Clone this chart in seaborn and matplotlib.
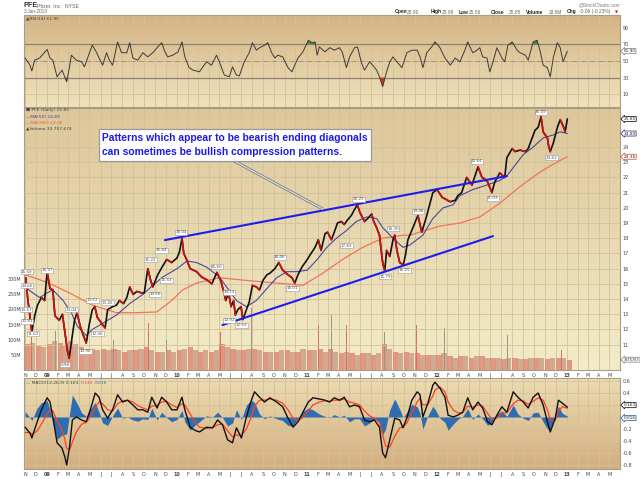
import numpy as np
import pandas as pd
import seaborn as sns
import matplotlib.pyplot as plt
from matplotlib.colors import LinearSegmentedColormap
from matplotlib.patches import Rectangle

# ===============================================================
# Valores (PFE diario, nov/2008 - jan/2013)
# ===============================================================

price_dates = [
    "2008-11-03", "2008-11-09", "2008-11-14", "2008-11-20", "2008-11-28", "2008-12-06", "2008-12-17",
    "2008-12-26", "2009-01-02", "2009-01-10", "2009-01-18", "2009-01-24", "2009-02-05", "2009-02-14",
    "2009-02-21", "2009-02-28", "2009-03-05", "2009-03-12", "2009-03-20", "2009-03-27", "2009-04-05",
    "2009-04-14", "2009-04-22", "2009-05-01", "2009-05-09", "2009-05-16", "2009-05-23", "2009-06-07",
    "2009-06-14", "2009-06-21", "2009-07-05", "2009-07-16", "2009-07-24", "2009-08-05", "2009-08-14",
    "2009-08-22", "2009-09-01", "2009-09-11", "2009-09-25", "2009-10-02", "2009-10-12", "2009-10-19",
    "2009-10-26", "2009-11-09", "2009-11-21", "2009-12-04", "2009-12-18", "2010-01-02", "2010-01-09",
    "2010-01-16", "2010-01-21", "2010-01-27", "2010-02-08", "2010-02-26", "2010-03-12", "2010-03-28",
    "2010-04-10", "2010-04-24", "2010-05-05", "2010-05-12", "2010-05-19", "2010-05-27", "2010-06-03",
    "2010-06-10", "2010-06-15", "2010-06-22", "2010-07-01", "2010-07-06", "2010-07-16", "2010-07-24",
    "2010-08-02", "2010-08-13", "2010-08-22", "2010-09-01", "2010-09-12", "2010-09-20", "2010-10-04",
    "2010-10-15", "2010-10-26", "2010-11-10", "2010-11-21", "2010-11-29", "2010-12-08", "2010-12-19",
    "2011-01-03", "2011-01-11", "2011-01-25", "2011-02-03", "2011-02-11", "2011-02-22", "2011-03-01",
    "2011-03-12", "2011-03-20", "2011-03-29", "2011-04-09", "2011-04-17", "2011-04-26", "2011-05-07",
    "2011-05-16", "2011-05-24", "2011-05-31", "2011-06-13", "2011-06-22", "2011-07-03", "2011-07-09",
    "2011-07-17", "2011-07-25", "2011-08-03", "2011-08-09", "2011-08-14", "2011-08-23", "2011-09-01",
    "2011-09-06", "2011-09-12", "2011-09-20", "2011-09-30", "2011-10-06", "2011-10-13", "2011-10-27",
    "2011-11-10", "2011-11-21", "2011-12-05", "2011-12-13", "2011-12-22", "2012-01-03", "2012-01-17",
    "2012-02-01", "2012-02-09", "2012-02-23", "2012-03-01", "2012-03-12", "2012-03-26", "2012-04-10",
    "2012-04-24", "2012-04-27", "2012-05-08", "2012-05-16", "2012-05-24", "2012-06-05", "2012-06-13",
    "2012-06-27", "2012-07-11", "2012-07-17", "2012-08-01", "2012-08-09", "2012-08-23", "2012-09-07",
    "2012-09-15", "2012-09-26", "2012-10-04", "2012-10-13", "2012-10-21", "2012-10-27", "2012-11-08",
    "2012-11-12", "2012-11-16", "2012-11-25", "2012-12-06", "2012-12-14", "2012-12-22", "2012-12-28",
    "2013-01-03",
]
price_close = [
    15.4, 13.9, 13.0, 11.8, 12.9, 13.6, 14.1,
    13.9, 15.8, 14.7, 14.6, 12.9, 12.6, 13.0,
    11.8, 10.6, 10.1, 11.3, 12.6, 13.1, 12.2,
    11.6, 11.1, 12.4, 13.3, 13.5, 12.8, 12.3,
    12.1, 13.3, 13.5, 13.6, 13.9, 13.7, 14.1,
    14.8, 14.3, 14.5, 14.4, 14.4, 16.0, 15.3,
    14.8, 15.6, 16.1, 16.6, 16.4, 16.7, 17.1,
    18.0, 17.0, 16.7, 16.0, 15.8, 15.45, 15.25,
    15.0, 15.75, 15.2, 14.6, 13.9, 14.4, 13.5,
    13.9, 12.95, 13.3, 13.5, 12.65, 13.3, 13.8,
    14.9, 14.8, 14.6, 15.25, 15.6, 15.7, 16.0,
    16.4, 15.9, 15.6, 15.4, 15.05, 15.6, 16.1,
    16.6, 16.9, 17.4, 17.9, 17.2, 18.3, 18.4,
    17.9, 18.4, 19.0, 19.1, 18.9, 19.2, 19.5,
    19.9, 20.2, 19.7, 19.1, 19.3, 19.6, 19.1,
    18.7, 18.2, 16.4, 15.85, 17.2, 16.8, 17.9,
    18.2, 17.2, 16.4, 16.25, 16.9, 17.9, 18.7,
    19.5, 18.4, 19.5, 20.2, 21.0, 21.2, 20.7,
    20.5, 20.4, 20.5, 20.8, 21.0, 22.0, 21.5,
    22.5, 22.7, 22.0, 21.9, 21.7, 21.0, 21.7,
    22.3, 22.0, 23.3, 23.9, 23.7, 23.8, 23.7,
    23.9, 24.6, 25.1, 25.3, 26.0, 25.0, 24.6,
    24.0, 23.7, 24.3, 25.3, 25.8, 25.4, 25.0,
    25.85,
]

ma50_dates = [
    "2008-11-01", "2008-11-23", "2008-12-12", "2009-01-02", "2009-01-18", "2009-02-16", "2009-03-11",
    "2009-03-28", "2009-04-22", "2009-05-09", "2009-06-07", "2009-07-16", "2009-08-22", "2009-09-28",
    "2009-10-26", "2009-11-23", "2010-01-02", "2010-01-30", "2010-02-26", "2010-03-26", "2010-05-01",
    "2010-06-18", "2010-07-16", "2010-08-13", "2010-09-12", "2010-10-09", "2010-11-07", "2010-12-05",
    "2011-01-03", "2011-01-31", "2011-02-27", "2011-03-26", "2011-04-23", "2011-05-21", "2011-06-19",
    "2011-07-17", "2011-08-03", "2011-09-01", "2011-09-29", "2011-10-18", "2011-11-24", "2011-12-22",
    "2012-01-20", "2012-02-17", "2012-03-07", "2012-04-12", "2012-05-22", "2012-06-27", "2012-07-17",
    "2012-08-09", "2012-09-01", "2012-09-29", "2012-10-27", "2012-11-25", "2012-12-14", "2013-01-03",
]
ma50 = [
    14.8, 14.4, 14.1, 14.4, 14.6, 13.9, 13.1,
    12.2, 11.6, 12.0, 12.4, 12.95, 13.7, 14.3,
    14.9, 15.45, 16.0, 16.5, 16.4, 16.1, 15.45,
    13.9, 13.5, 13.9, 14.7, 15.4, 15.8, 15.8,
    15.9, 16.6, 17.4, 18.0, 18.5, 19.1, 19.4,
    19.3, 18.7, 18.0, 17.4, 17.55, 18.2, 19.3,
    20.0, 20.2, 20.8, 21.2, 21.5, 21.8, 22.1,
    22.8, 23.5, 24.0, 24.6, 24.8, 25.0, 24.89,
]

ma200_dates = [
    "2008-11-01", "2009-01-02", "2009-03-06", "2009-05-09", "2009-07-16", "2009-09-11", "2009-11-06",
    "2009-12-13", "2010-01-18", "2010-02-26", "2010-05-01", "2010-07-05", "2010-10-09", "2010-12-22",
    "2011-02-16", "2011-04-12", "2011-06-08", "2011-08-03", "2011-09-29", "2011-10-18", "2012-01-11",
    "2012-03-07", "2012-05-02", "2012-06-27", "2012-08-23", "2012-10-18", "2012-11-30", "2013-01-03",
]
ma200 = [
    15.6, 15.1, 14.4, 13.6, 13.1, 13.1, 13.15,
    13.8, 14.6, 15.05, 15.4, 15.25, 15.05, 14.9,
    15.7, 16.6, 17.4, 18.0, 18.2, 18.2, 18.8,
    19.0, 19.4, 20.3, 21.4, 22.35, 22.95, 23.36,
]

rsi_dates = [
    "2008-11-01", "2008-11-15", "2008-11-20", "2008-11-28", "2008-12-12", "2009-01-02", "2009-01-10",
    "2009-01-18", "2009-01-30", "2009-02-13", "2009-02-26", "2009-03-06", "2009-03-11", "2009-03-25",
    "2009-04-09", "2009-04-17", "2009-05-01", "2009-05-09", "2009-05-20", "2009-05-28", "2009-06-07",
    "2009-06-18", "2009-06-26", "2009-07-05", "2009-07-19", "2009-07-30", "2009-08-14", "2009-08-22",
    "2009-08-31", "2009-09-14", "2009-09-28", "2009-10-12", "2009-10-26", "2009-11-09", "2009-11-20",
    "2009-11-29", "2009-12-07", "2009-12-21", "2010-01-05", "2010-01-16", "2010-01-24", "2010-02-05",
    "2010-02-16", "2010-03-06", "2010-03-26", "2010-04-09", "2010-04-23", "2010-05-01", "2010-05-15",
    "2010-05-29", "2010-06-07", "2010-06-18", "2010-06-26", "2010-07-10", "2010-07-24", "2010-08-02",
    "2010-08-13", "2010-08-22", "2010-09-05", "2010-09-14", "2010-09-25", "2010-10-04", "2010-10-12",
    "2010-10-26", "2010-11-10", "2010-11-21", "2010-11-29", "2010-12-08", "2010-12-22", "2011-01-06",
    "2011-01-17", "2011-01-25", "2011-01-31", "2011-02-06", "2011-02-22", "2011-03-07", "2011-03-20",
    "2011-04-04", "2011-04-12", "2011-04-23", "2011-05-02", "2011-05-16", "2011-05-24", "2011-06-05",
    "2011-06-13", "2011-06-27", "2011-07-06", "2011-07-17", "2011-07-25", "2011-08-03", "2011-08-14",
    "2011-08-23", "2011-09-01", "2011-09-12", "2011-09-26", "2011-10-10", "2011-10-24", "2011-11-08",
    "2011-11-16", "2011-11-24", "2011-12-05", "2011-12-19", "2011-12-28", "2012-01-11", "2012-01-25",
    "2012-02-09", "2012-02-23", "2012-03-07", "2012-03-21", "2012-03-29", "2012-04-12", "2012-04-24",
    "2012-05-02", "2012-05-10", "2012-05-22", "2012-05-30", "2012-06-08", "2012-06-19", "2012-07-03",
    "2012-07-11", "2012-07-20", "2012-08-01", "2012-08-15", "2012-08-23", "2012-09-07", "2012-09-15",
    "2012-09-29", "2012-10-10", "2012-10-18", "2012-10-27", "2012-11-08", "2012-11-16", "2012-11-25",
    "2012-12-06", "2012-12-14", "2012-12-22", "2013-01-03",
]
rsi = [
    53.6, 45, 38, 51, 53.6, 64, 53.6,
    51, 31, 39, 25, 43, 57, 51,
    49, 43, 60, 69, 61, 53.6, 45,
    60, 51, 45, 73, 60, 60, 72,
    53.6, 51, 60, 55, 60, 67, 72,
    61, 55, 57, 61, 73, 55, 42,
    39, 37, 49, 45, 57, 49, 33,
    31, 43, 33, 32, 49, 60, 72,
    63, 66, 69, 72, 60, 53.6, 57,
    55, 42, 37, 45, 53.6, 61, 75,
    72, 73, 57, 67, 61, 66, 63,
    66, 60, 42, 55, 66, 67, 47,
    39, 49, 45, 39, 31, 19, 37,
    49, 55, 49, 42, 60, 63, 63,
    55, 42, 60, 67, 73, 66, 53.6,
    45, 53.6, 49, 63, 73, 60, 63,
    66, 55, 53.6, 37, 49, 66, 53.6,
    49, 69, 73, 63, 60, 57, 51,
    73, 75, 63, 45, 42, 31, 55,
    72, 66, 49, 61.9,
]

macd_dates = [
    "2008-11-01", "2008-11-15", "2008-11-20", "2008-12-04", "2008-12-17", "2009-01-02", "2009-01-10",
    "2009-01-18", "2009-01-30", "2009-02-13", "2009-02-21", "2009-02-26", "2009-03-06", "2009-03-14",
    "2009-03-25", "2009-04-09", "2009-04-22", "2009-05-06", "2009-05-17", "2009-05-28", "2009-06-07",
    "2009-06-21", "2009-07-05", "2009-07-19", "2009-08-02", "2009-08-16", "2009-08-31", "2009-09-14",
    "2009-09-28", "2009-10-12", "2009-10-23", "2009-11-07", "2009-11-20", "2009-12-04", "2009-12-18",
    "2010-01-02", "2010-01-16", "2010-01-24", "2010-02-08", "2010-02-21", "2010-03-06", "2010-03-26",
    "2010-04-12", "2010-04-26", "2010-05-10", "2010-05-24", "2010-06-07", "2010-06-18", "2010-07-02",
    "2010-07-16", "2010-07-30", "2010-08-08", "2010-08-22", "2010-09-05", "2010-09-20", "2010-10-09",
    "2010-10-26", "2010-11-10", "2010-11-24", "2010-12-08", "2010-12-22", "2011-01-06", "2011-01-19",
    "2011-02-06", "2011-02-22", "2011-03-07", "2011-03-20", "2011-04-04", "2011-04-17", "2011-05-02",
    "2011-05-16", "2011-05-30", "2011-06-13", "2011-06-27", "2011-07-11", "2011-07-25", "2011-08-03",
    "2011-08-11", "2011-08-23", "2011-09-06", "2011-09-20", "2011-09-29", "2011-10-10", "2011-10-24",
    "2011-11-08", "2011-11-16", "2011-11-24", "2011-12-08", "2011-12-22", "2011-12-28", "2012-01-11",
    "2012-01-25", "2012-02-03", "2012-02-17", "2012-03-01", "2012-03-15", "2012-03-29", "2012-04-12",
    "2012-04-27", "2012-05-10", "2012-05-24", "2012-06-05", "2012-06-19", "2012-07-03", "2012-07-17",
    "2012-08-04", "2012-08-17", "2012-09-01", "2012-09-15", "2012-09-29", "2012-10-13", "2012-10-27",
    "2012-11-08", "2012-11-16", "2012-11-30", "2012-12-09", "2012-12-20", "2013-01-03",
]
macd_line = [
    -0.17, -0.27, -0.35, -0.10, 0.12, 0.32, 0.25,
    0.00, -0.43, -0.52, -0.67, -0.80, -0.50, -0.05,
    0.00, -0.05, -0.08, 0.17, 0.40, 0.33, 0.12,
    -0.02, 0.12, 0.37, 0.25, 0.28, 0.20, 0.12,
    0.12, 0.08, 0.33, 0.15, 0.33, 0.25, 0.12,
    0.12, 0.33, 0.12, -0.17, -0.22, -0.25, -0.17,
    -0.18, -0.05, -0.13, -0.38, -0.43, -0.18, -0.35,
    0.00, 0.28, 0.42, 0.33, 0.25, 0.32, 0.25,
    0.17, -0.02, -0.17, -0.08, 0.08, 0.25, 0.32,
    0.30, 0.28, 0.25, 0.32, 0.28, 0.33, 0.17,
    0.20, 0.17, -0.05, -0.08, -0.05, -0.17, -0.60,
    -0.68, -0.38, -0.02, -0.05, -0.18, -0.02, 0.28,
    0.42, 0.37, 0.00, 0.23, 0.53, 0.58, 0.48,
    0.33, 0.03, 0.00, 0.03, 0.08, 0.32, 0.12,
    0.25, 0.15, -0.08, -0.13, 0.03, 0.17, 0.08,
    0.42, 0.33, 0.25, 0.15, 0.33, 0.40, 0.20,
    -0.08, -0.25, -0.02, 0.28, 0.23, 0.163,
]
macd_signal = [
    -0.26, -0.26, -0.29, -0.24, -0.12, 0.05, 0.12,
    0.10, -0.06, -0.22, -0.38, -0.52, -0.55, -0.42,
    -0.25, -0.12, -0.09, 0.02, 0.16, 0.25, 0.22,
    0.12, 0.10, 0.22, 0.27, 0.28, 0.25, 0.19,
    0.15, 0.12, 0.18, 0.20, 0.25, 0.26, 0.20,
    0.16, 0.22, 0.20, 0.05, -0.08, -0.17, -0.19,
    -0.18, -0.13, -0.12, -0.23, -0.33, -0.30, -0.31,
    -0.20, 0.00, 0.18, 0.28, 0.28, 0.30, 0.28,
    0.23, 0.12, -0.02, -0.06, -0.01, 0.10, 0.20,
    0.25, 0.27, 0.26, 0.28, 0.28, 0.30, 0.25,
    0.23, 0.20, 0.10, 0.02, -0.02, -0.09, -0.30,
    -0.48, -0.50, -0.32, -0.18, -0.17, -0.10, 0.07,
    0.25, 0.31, 0.20, 0.21, 0.35, 0.45, 0.50,
    0.42, 0.25, 0.12, 0.07, 0.07, 0.18, 0.16,
    0.20, 0.18, 0.06, -0.04, -0.02, 0.07, 0.07,
    0.22, 0.28, 0.27, 0.21, 0.26, 0.32, 0.28,
    0.12, -0.05, -0.06, 0.10, 0.17, 0.146,
]
macd_hist = [
    0.09, -0.01, -0.06, 0.14, 0.24, 0.27, 0.13,
    -0.10, -0.37, -0.30, -0.29, -0.28, 0.05, 0.37,
    0.25, 0.07, 0.01, 0.15, 0.24, 0.08, -0.10,
    -0.14, 0.02, 0.15, -0.02, 0.00, -0.05, -0.07,
    -0.03, -0.04, 0.15, -0.05, 0.08, -0.01, -0.08,
    -0.04, 0.11, -0.08, -0.22, -0.14, -0.08, 0.02,
    0.00, 0.08, -0.01, -0.15, -0.10, 0.12, -0.04,
    0.20, 0.28, 0.24, 0.05, -0.03, 0.02, -0.03,
    -0.06, -0.14, -0.15, -0.02, 0.09, 0.15, 0.12,
    0.05, 0.01, -0.01, 0.04, 0.00, 0.03, -0.08,
    -0.03, -0.03, -0.15, -0.10, -0.03, -0.08, -0.30,
    -0.20, 0.12, 0.30, 0.13, -0.01, 0.08, 0.21,
    0.17, 0.06, -0.20, 0.02, 0.18, 0.13, -0.02,
    -0.09, -0.22, -0.12, -0.04, 0.01, 0.14, -0.04,
    0.05, -0.03, -0.14, -0.09, 0.05, 0.10, 0.01,
    0.20, 0.05, -0.02, -0.06, 0.07, 0.08, -0.08,
    -0.20, -0.20, 0.04, 0.18, 0.06, 0.016,
]

# volume (milhoes): nivel tipico por quinzena, a partir de 2008-11-01
vol_base = [
    85, 90, 80, 75,
    85, 95, 90, 80, 95, 85, 75, 70, 70, 65, 70, 65, 70, 65, 60, 65, 65, 70, 75, 65, 60, 60, 65, 60,
    65, 70, 75, 65, 60, 65, 60, 65, 85, 75, 70, 65, 65, 70, 70, 65, 60, 60, 60, 65, 65, 60, 60, 70,
    65, 65, 70, 60, 70, 60, 55, 60, 55, 50, 55, 55, 50, 55, 85, 70, 60, 55, 60, 55, 55, 50, 50, 50,
    50, 55, 45, 40, 45, 45, 40, 45, 45, 40, 40, 40, 35, 40, 40, 35, 35, 40, 40, 38, 35, 40, 38, 40,
    34,
]
spike_dates = [
    "2008-11-18", "2009-01-26", "2009-03-10", "2009-07-08", "2009-10-14", "2009-12-04", "2010-05-03",
    "2010-07-30", "2011-02-03", "2011-03-12", "2011-04-23", "2011-08-09", "2011-11-06", "2012-01-25",
    "2012-04-27", "2012-07-20", "2012-12-18",
]
spike_vol = [110, 130, 120, 100, 155, 100, 125, 205, 150, 180, 150, 125, 150, 140, 115, 115, 65]

# linhas de tendencia desenhadas pelo autor
upper_dates = ["2009-11-29", "2012-07-17"]
upper_prices = [17.88, 22.09]
lower_dates = ["2010-05-10", "2012-06-08"]
lower_prices = [12.29, 18.14]
callout_dates = ["2010-06-12", "2011-02-16"]
callout_prices = [23.08, 19.92]

# rotulos de topos / fundos
label_dates = [
    "2008-11-06", "2008-11-06", "2008-11-04", "2008-11-06", "2008-11-23", "2009-01-02", "2009-03-11",
    "2009-02-21", "2009-04-19", "2009-05-09", "2009-05-23", "2009-06-21", "2009-10-20", "2009-11-01",
    "2009-11-20", "2009-12-04", "2010-01-13", "2010-04-24", "2010-05-29", "2010-05-28", "2010-07-02",
    "2010-10-18", "2010-11-23", "2011-04-23", "2011-05-27", "2011-08-10", "2011-09-01", "2011-10-04",
    "2011-11-10", "2012-04-24", "2012-06-08", "2012-10-21", "2012-11-19",
]
label_prices = [
    15.78, 14.86, 13.28, 12.55, 11.70, 15.91, 13.28,
    9.66, 10.58, 13.93, 11.70, 13.74, 16.57, 14.33,
    17.22, 15.25, 18.41, 16.11, 14.46, 12.62, 12.29,
    16.76, 14.72, 17.49, 20.58, 15.45, 18.61, 15.91,
    19.79, 23.08, 20.64, 26.30, 23.28,
]
label_texts = [
    "15.59", "14.66", "13.57", "12.81", "11.62", "15.97", "13.04",
    "9.98", "10.96", "13.62", "12.06", "13.45", "16.22", "14.66",
    "16.84", "15.53", "18.04", "15.80", "14.13", "12.92", "12.63",
    "16.46", "15.01", "17.83", "20.25", "15.79", "18.30", "16.25",
    "19.48", "22.64", "21.03", "26.09", "23.62",
]

# ===============================================================
# Preparacao
# ===============================================================

px = pd.DataFrame({"date": pd.to_datetime(price_dates), "close": price_close})
m50 = pd.DataFrame({"date": pd.to_datetime(ma50_dates), "v": ma50})
m200 = pd.DataFrame({"date": pd.to_datetime(ma200_dates), "v": ma200})
rs = pd.DataFrame({"date": pd.to_datetime(rsi_dates), "v": rsi})
md = pd.DataFrame({"date": pd.to_datetime(macd_dates), "macd": macd_line,
                   "signal": macd_signal, "hist": macd_hist})
vol_dates = pd.date_range("2008-11-01", periods=len(vol_base), freq="SMS")

sns.set_style("white")
plt.rcParams["font.family"] = ["DejaVu Sans"]

W, H = 640, 479
SMALL = 3.5
SANS = ["Liberation Sans", "DejaVu Sans"]
fig = plt.figure(figsize=(6.4, 4.79), dpi=100)


def pos(l, t, r, b):
    return [l / W, 1 - b / H, (r - l) / W, (b - t) / H]


def paint(ax, top, bottom):
    cmap = LinearSegmentedColormap.from_list("bg", [top, bottom])
    ax.imshow(np.linspace(0, 1, 256)[:, None], cmap=cmap, aspect="auto",
              extent=[0, 1, 0, 1], transform=ax.transAxes, zorder=0)


def tag(ax, y, text, edge, dy=0, size=3.1):
    ax.annotate(text, xy=(1, y), xycoords=("axes fraction", "data"), xytext=(2.5, dy),
                textcoords="offset points", fontsize=size, va="center", ha="left",
                annotation_clip=False, zorder=20,
                bbox=dict(boxstyle="larrow,pad=0.12", fc="white", ec=edge, lw=0.6))


ax_rsi = fig.add_axes(pos(24, 15, 620, 107))
ax_vol = fig.add_axes(pos(24, 108, 620, 370), sharex=ax_rsi)
ax_px = ax_vol.twinx()
ax_macd = fig.add_axes(pos(24, 378, 620, 469), sharex=ax_rsi)

GRID = "#d2c19b"

# ---------------- RSI ----------------
sns.lineplot(data=rs, x="date", y="v", ax=ax_rsi, color="#3a3a3a", lw=0.7, zorder=4)
ax_rsi.fill_between(rs["date"], rs["v"], 70, where=rs["v"] > 70, interpolate=True,
                    color="#4f8a3c", lw=0, zorder=3)
ax_rsi.fill_between(rs["date"], rs["v"], 30, where=rs["v"] < 30, interpolate=True,
                    color="#c0392b", lw=0, zorder=3)
for lvl in (70, 30):
    ax_rsi.axhline(lvl, color="#8d8271", lw=0.9, zorder=2)
ax_rsi.axhline(50, color="#9a8f7c", lw=0.6, ls="-.", zorder=2)
ax_rsi.set_ylim(-5.4, 105.4)
ax_rsi.set_yticks([10, 30, 50, 70, 90])
paint(ax_rsi, "#d5b383", "#efe3bc")

# ---------------- Volume + preco ----------------
vcolors = ["#df826f" if i % 2 == 0 else "#c89a82" for i in range(len(vol_base))]
ax_vol.bar(vol_dates, vol_base, width=15, align="edge", color=vcolors, alpha=0.8, lw=0, zorder=2)
scol = ["#9c9585" if i % 2 else "#d9705e" for i in range(len(spike_vol))]
ax_vol.bar(pd.to_datetime(spike_dates), spike_vol, width=2.5, color=scol, lw=0, zorder=3)
ax_vol.set_ylim(0, 865)
ax_vol.set_yticks([50, 100, 150, 200, 250, 300])
ax_vol.set_yticklabels(["50M", "100M", "150M", "200M", "250M", "300M"])
paint(ax_vol, "#ddc699", "#f3ecc9")

sns.lineplot(data=m200, x="date", y="v", ax=ax_px, color="#f2735a", lw=0.9, zorder=3)
sns.lineplot(data=m50, x="date", y="v", ax=ax_px, color="#47479f", lw=0.8, zorder=3)
sns.lineplot(data=px, x="date", y="close", ax=ax_px, color="#111111", lw=1.2, zorder=4)
for i in range(1, len(px)):
    if px["close"][i] < px["close"][i - 1]:
        ax_px.plot(px["date"][i - 1:i + 1], px["close"][i - 1:i + 1], color="#d01010", lw=1.2, zorder=5)

ax_px.plot(pd.to_datetime(upper_dates), upper_prices, color="#1c1cf0", lw=1.5, zorder=6)
ax_px.plot(pd.to_datetime(lower_dates), lower_prices, color="#1c1cf0", lw=1.5, zorder=6)
ax_px.plot(pd.to_datetime(callout_dates), callout_prices, color="#8c8c8c", lw=2.2, zorder=6,
           solid_capstyle="butt")
ax_px.plot(pd.to_datetime(callout_dates), callout_prices, color="#e6e6e6", lw=0.7, zorder=6)

for d, p, t in zip(pd.to_datetime(label_dates), label_prices, label_texts):
    ax_px.text(d, p, t, fontsize=3.0, ha="center", va="center", color="#555555", zorder=7,
               bbox=dict(boxstyle="square,pad=0.12", fc="white", ec="#9a9a9a", lw=0.4))

ax_px.add_patch(Rectangle((0.1258, 0.7977), 0.4564, 0.1221, transform=ax_px.transAxes,
                          fc="white", ec="#9a9a9a", lw=0.9, zorder=8))
ax_px.text(0.1309, 0.8855, "Patterns which appear to be bearish ending diagonals",
           transform=ax_px.transAxes, fontsize=7.4, weight="bold", color="#1a1ae6",
           family=SANS, va="center", zorder=9)
ax_px.text(0.1309, 0.832, "can sometimes be bullish compression patterns.",
           transform=ax_px.transAxes, fontsize=7.4, weight="bold", color="#1a1ae6",
           family=SANS, va="center", zorder=9)

ax_px.set_ylim(9.33, 26.57)
ax_px.set_yticks(range(11, 25))
ax_px.grid(axis="y", color=GRID, lw=0.6)

# ---------------- MACD ----------------
ax_macd.fill_between(md["date"], md["hist"], 0, color="#2f6db3", lw=0, zorder=3)
sns.lineplot(data=md, x="date", y="signal", ax=ax_macd, color="#ff4020", lw=0.9, zorder=4)
sns.lineplot(data=md, x="date", y="macd", ax=ax_macd, color="#111111", lw=1.0, zorder=5)
ax_macd.set_ylim(-0.867, 0.65)
ax_macd.set_yticks([-0.8, -0.6, -0.4, -0.2, 0.0, 0.2, 0.4, 0.6])
ax_macd.set_yticklabels(["-0.8", "-0.6", "-0.4", "-0.2", "", "", "0.4", "0.6"])
paint(ax_macd, "#ecdcb1", "#d3ae7f")

# ---------------- eixos comuns ----------------
months = pd.date_range("2008-11-01", "2013-05-01", freq="MS")
mlabels = [m.strftime("%y") if m.month == 1 else m.strftime("%b")[0] for m in months]
for ax in (ax_rsi, ax_vol, ax_macd):
    ax.set_xticks(months)
    ax.set_xticklabels(mlabels)
    ax.grid(axis="x", color=GRID, lw=0.6)
    ax.grid(axis="y", color=GRID, lw=0.6)
    ax.set_axisbelow(True)
    ax.set_xlabel("")
    ax.set_ylabel("")
    for s in ax.spines.values():
        s.set_color("#a99d86")
        s.set_linewidth(0.8)
ax_vol.grid(axis="y", visible=False)
ax_px.set_xlabel("")
ax_px.set_ylabel("")
for s in ax_px.spines.values():
    s.set_visible(False)

ax_rsi.set_xlim(pd.Timestamp("2008-10-29"), pd.Timestamp("2013-05-31"))
ax_rsi.tick_params(labelbottom=False)

for ax in (ax_rsi, ax_macd):
    ax.yaxis.tick_right()
for ax in (ax_rsi, ax_px, ax_macd, ax_vol):
    ax.tick_params(axis="both", length=0, labelsize=SMALL, pad=2, colors="#444444")
for ax in (ax_vol, ax_macd):
    for lbl in ax.get_xticklabels():
        if lbl.get_text().isdigit():
            lbl.set_fontweight("bold")

# marcadores do ultimo valor
tag(ax_rsi, 61.9, "61.90", "#8c8c8c")
tag(ax_px, 25.85, "25.85", "#222222")
tag(ax_px, 24.89, "24.89", "#4646a0")
tag(ax_px, 23.36, "23.36", "#e0604a")
tag(ax_vol, 34, "33757674", "#8c8c8c", size=2.5)
tag(ax_macd, 0.163, "0.163", "#222222", dy=1.5)
tag(ax_macd, 0.016, "0.016", "#2f6db3", dy=-1.5)

# ---------------- textos de cabecalho ----------------
def ftext(x, y, s, **kw):
    kw.setdefault("fontsize", SMALL)
    kw.setdefault("color", "#444444")
    kw.setdefault("family", SANS)
    fig.text(x / W, 1 - y / H, s, va="center", **kw)


ftext(24, 5.5, "PFE", fontsize=5.2, weight="bold", color="#333333")
ftext(37, 5.5, "Pfizer, Inc.  NYSE", fontsize=3.8, color="#666666")
ftext(24, 11.5, "3-Jan-2013", fontsize=3.4, color="#666666")
ftext(620, 4.5, "@StockCharts.com", ha="right", fontsize=3.4, color="#777777")
for x, s, b in [(395, "Open", True), (407, "25.90", False), (431, "High", True), (442, "25.99", False),
                (459, "Low", True), (469, "25.56", False), (491, "Close", True), (509, "25.85", False),
                (526, "Volume", True), (549, "33.8M", False), (567, "Chg", True),
                (579, "-0.06 (-0.23%)", False)]:
    ftext(x, 12, s, weight="bold" if b else "normal", color="#222222" if b else "#666666")
ftext(615, 12, "\u25bc", fontsize=2.8, color="#d01010", family=["DejaVu Sans"])

LEG = ["DejaVu Sans"]
ftext(26, 18.5, "\u25b2RSI(14) 61.90", fontsize=3.2, family=LEG)
ftext(26, 110.5, "\u25a0 PFE (Daily) 25.85", fontsize=3.2, family=LEG)
ftext(26, 116.5, "\u2014MA(50) 24.89", fontsize=3.2, color="#4646a0", family=LEG)
ftext(26, 122.5, "\u2014MA(200) 23.36", fontsize=3.2, color="#e0604a", family=LEG)
ftext(26, 128.5, "\u25b2Volume 33,757,674", fontsize=3.2, family=LEG)
ftext(26, 382.5, "\u2014 MACD(12,26,9) 0.163,", fontsize=3.2, family=LEG)
ftext(81, 382.5, "0.146,", fontsize=3.2, color="#e0604a", family=LEG)
ftext(95, 382.5, "0.016", fontsize=3.2, color="#2f6db3", family=LEG)

fig.savefig("out.png", dpi=100)
